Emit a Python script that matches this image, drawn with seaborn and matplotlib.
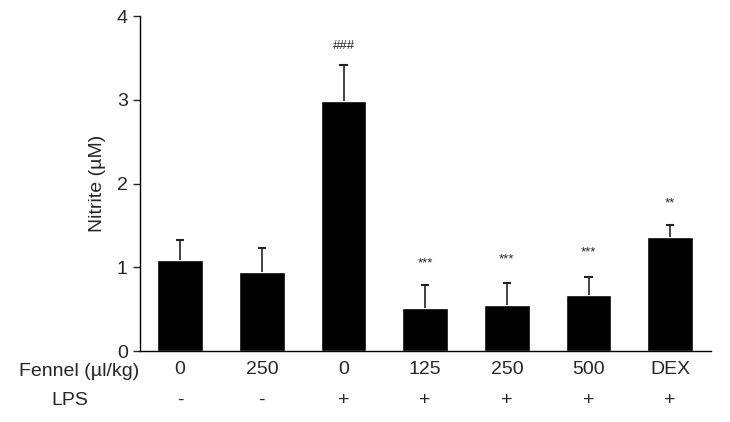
import matplotlib
matplotlib.use("Agg")
from matplotlib import pyplot as plt
import numpy as np
import pandas as pd
import seaborn as sns

# Nitrite levels per group
groups = ["g1", "g2", "g3", "g4", "g5", "g6", "g7"]
fennel_labels = ["0", "250", "0", "125", "250", "500", "DEX"]
lps_labels = ["-", "-", "+", "+", "+", "+", "+"]
nitrite = [1.09, 0.95, 2.98, 0.51, 0.55, 0.67, 1.36]
sem = [0.24, 0.28, 0.44, 0.28, 0.26, 0.22, 0.15]
marks = ["", "", "###", "***", "***", "***", "**"]
mark_y = [0, 0, 3.64, 1.05, 1.09, 1.18, 1.76]

df = pd.DataFrame({"group": groups, "nitrite": nitrite})

sns.set_style("white")
plt.rcParams["font.family"] = ["Liberation Sans", "DejaVu Sans"]

fig, ax = plt.subplots(figsize=(7.3, 4.22), dpi=100)
fig.subplots_adjust(left=0.192, right=0.974, top=0.962, bottom=0.168)

sns.barplot(data=df, x="group", y="nitrite", color="black", width=0.56,
            errorbar=None, saturation=1, ax=ax)

# upper-only error bars
xs = np.arange(len(groups))
tops = np.array(nitrite) + np.array(sem)
ax.vlines(xs, nitrite, tops, color="#222222", linewidth=1.2, zorder=1)
ax.hlines(tops, xs - 0.05, xs + 0.05, color="#222222", linewidth=1.5, zorder=1)

for i, m in enumerate(marks):
    if m:
        ax.text(i, mark_y[i], m, ha="center", va="center", fontsize=9.5)

ax.set_ylim(0, 4)
ax.set_xlim(-0.49, 6.5)
ax.set_yticks([0, 1, 2, 3, 4])
ax.set_ylabel("Nitrite (µM)", fontsize=14, labelpad=8)
ax.set_xlabel("")
ax.set_xticks(xs)
ax.set_xticklabels(fennel_labels, fontsize=14)
ax.tick_params(axis="y", labelsize=14, length=5, width=1, direction="out", left=True, pad=4)
ax.tick_params(axis="x", length=0, pad=7)

for side in ["top", "right"]:
    ax.spines[side].set_visible(False)
for side in ["left", "bottom"]:
    ax.spines[side].set_color("black")
    ax.spines[side].set_linewidth(1)

trans = ax.get_xaxis_transform()
for i, s in enumerate(lps_labels):
    ax.text(i, -0.146, s, transform=trans, ha="center", va="center", fontsize=14)
ax.text(-1.236, -0.06, "Fennel (µl/kg)", transform=trans, ha="center", va="center", fontsize=14)
ax.text(-1.35, -0.146, "LPS", transform=trans, ha="center", va="center", fontsize=14)

fig.savefig("out.png", dpi=100)
